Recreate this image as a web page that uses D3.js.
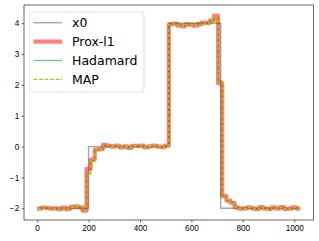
<!DOCTYPE html>
<html>
<head>
<meta charset="utf-8">
<script src="https://cdn.jsdelivr.net/npm/d3@7"></script>
<style>
  html, body { margin: 0; padding: 0; background: #fff; }
  svg { display: block; font-family: "DejaVu Sans", sans-serif; }
  .tick-label { font-size: 8.2px; fill: #000; }
  .legend-label { font-size: 12.5px; fill: #000; }
</style>
</head>
<body>
<div id="chart"></div>
<script>
// ground truth step signal (start index, value)
const x0Index = [0, 200, 512, 714, 1023];
const x0Values = [-2, 0, 4, -2, -2];

// reconstructions, one value per block of 16 samples
const blockSize = 16;
const hadamardValues = [
  -2.00, -1.99, -1.98, -2.00, -2.01, -2.02, -1.99, -2.02, -1.97, -1.95, -1.96, -2.06,
  -0.88, -0.45, -0.12, -0.10,
  0.04, 0.03, 0.01, 0.02, -0.02, 0.00, -0.03, 0.01, 0.03, 0.02, -0.02, 0.00, 0.02, 0.01, -0.01, 0.02,
  3.97, 3.98, 3.94, 3.91, 3.95, 3.96, 3.93, 3.96, 4.01, 4.00, 4.07, 4.18,
  2.12, -1.63, -1.76, -1.81,
  -1.98, -2.00, -2.01, -1.98, -1.99, -2.02, -1.97, -2.00, -2.03, -1.98, -2.00, -1.97, -2.01, -2.02, -1.98, -2.00
];
const mapValues = [
  -2.00, -1.99, -1.98, -2.00, -2.01, -2.02, -1.99, -2.02, -1.97, -1.95, -1.96, -2.06,
  -0.90, -0.46, -0.12, -0.10,
  0.04, 0.03, 0.01, 0.02, -0.02, 0.00, -0.03, 0.01, 0.03, 0.02, -0.02, 0.00, 0.02, 0.01, -0.01, 0.02,
  3.97, 3.98, 3.94, 3.91, 3.95, 3.96, 3.93, 3.96, 4.01, 4.00, 4.07, 4.17,
  2.10, -1.64, -1.76, -1.81,
  -1.98, -2.00, -2.01, -1.98, -1.99, -2.02, -1.97, -2.00, -2.03, -1.98, -2.00, -1.97, -2.01, -2.02, -1.98, -2.00
];
const proxValues = [
  -2.01, -1.98, -1.99, -2.01, -2.00, -2.03, -1.98, -2.03, -1.96, -1.94, -1.97, -2.08,
  -0.72, -0.42, -0.10, -0.08,
  0.06, 0.02, 0.00, 0.03, -0.03, 0.01, -0.04, 0.02, 0.02, 0.03, -0.03, 0.01, 0.03, 0.00, -0.02, 0.03,
  3.96, 3.99, 3.93, 3.90, 3.96, 3.95, 3.92, 3.97, 4.02, 4.01, 4.09, 4.25,
  2.05, -1.60, -1.75, -1.82,
  -1.97, -2.01, -2.00, -1.97, -2.00, -2.03, -1.96, -2.01, -2.02, -1.97, -2.01, -1.96, -2.02, -2.01, -1.97, -2.01
];

const xTicks = [0, 200, 400, 600, 800, 1000];
const yTicks = [-2, -1, 0, 1, 2, 3, 4];

const width = 319;
const height = 241;
const plot = { left: 24, top: 5, right: 313.3, bottom: 220 };

const svg = d3.select("#chart").append("svg")
  .attr("width", width)
  .attr("height", height);

const x = d3.scaleLinear().domain([-51.15, 1074.15]).range([plot.left, plot.right]);
const y = d3.scaleLinear().domain([-2.38, 4.59]).range([plot.bottom, plot.top]);

function blocksToPoints(values) {
  const pts = values.map((v, i) => [i * blockSize, v]);
  pts.push([1023, values[values.length - 1]]);
  return pts;
}

const line = d3.line()
  .x(d => x(d[0]))
  .y(d => y(d[1]))
  .curve(d3.curveStepAfter);

const series = [
  { name: "x0", points: x0Index.map((d, i) => [d, x0Values[i]]), color: "gray", opacity: 0.7, width: 1.4 },
  { name: "Prox-l1", points: blocksToPoints(proxValues), color: "red", opacity: 0.5, width: 4.2 },
  { name: "Hadamard", points: blocksToPoints(hadamardValues), color: "green", opacity: 0.5, width: 1.4 },
  { name: "MAP", points: blocksToPoints(mapValues), color: "#bfbf00", opacity: 1, width: 1.4, dash: "3.8,1.7" }
];

svg.append("clipPath").attr("id", "plot-clip")
  .append("rect")
  .attr("x", plot.left).attr("y", plot.top)
  .attr("width", plot.right - plot.left).attr("height", plot.bottom - plot.top);

const linesLayer = svg.append("g").attr("clip-path", "url(#plot-clip)");
linesLayer.selectAll("path")
  .data(series)
  .join("path")
  .attr("d", d => line(d.points))
  .attr("fill", "none")
  .attr("stroke", d => d.color)
  .attr("stroke-opacity", d => d.opacity)
  .attr("stroke-width", d => d.width)
  .attr("stroke-dasharray", d => d.dash || null)
  .attr("stroke-linejoin", "round");

// axes
const xAxis = svg.append("g")
  .attr("transform", `translate(0,${plot.bottom})`)
  .call(d3.axisBottom(x).tickValues(xTicks).tickSize(2.4).tickPadding(2.4).tickFormat(d3.format("d")));
const yAxis = svg.append("g")
  .attr("transform", `translate(${plot.left},0)`)
  .call(d3.axisLeft(y).tickValues(yTicks).tickSize(2.4).tickPadding(2.4)
    .tickFormat(d => d < 0 ? "\u2212" + Math.abs(d) : d));

[xAxis, yAxis].forEach(g => {
  g.select(".domain").remove();
  g.selectAll(".tick line").attr("stroke", "#000").attr("stroke-width", 0.6);
  g.selectAll(".tick text").attr("class", "tick-label").attr("font-family", null).attr("font-size", null);
});

svg.append("rect")
  .attr("x", plot.left).attr("y", plot.top)
  .attr("width", plot.right - plot.left).attr("height", plot.bottom - plot.top)
  .attr("fill", "none")
  .attr("stroke", "#000")
  .attr("stroke-width", 0.6);

// legend
const legend = svg.append("g").attr("transform", "translate(30,12)");
legend.append("rect")
  .attr("width", 114)
  .attr("height", 80)
  .attr("rx", 2.5)
  .attr("fill", "#fff")
  .attr("fill-opacity", 0.8)
  .attr("stroke", "#cccccc")
  .attr("stroke-width", 0.6);

const rows = legend.selectAll(".legend-row")
  .data(series)
  .join("g")
  .attr("class", "legend-row")
  .attr("transform", (d, i) => `translate(0,${10.7 + i * 18.9})`);

rows.append("line")
  .attr("x1", 3.5).attr("x2", 32)
  .attr("stroke", d => d.color)
  .attr("stroke-opacity", d => d.opacity)
  .attr("stroke-width", d => d.width)
  .attr("stroke-dasharray", d => d.dash || null);

rows.append("text")
  .attr("class", "legend-label")
  .attr("x", 42)
  .attr("dy", "0.36em")
  .text(d => d.name);
</script>
</body>
</html>
